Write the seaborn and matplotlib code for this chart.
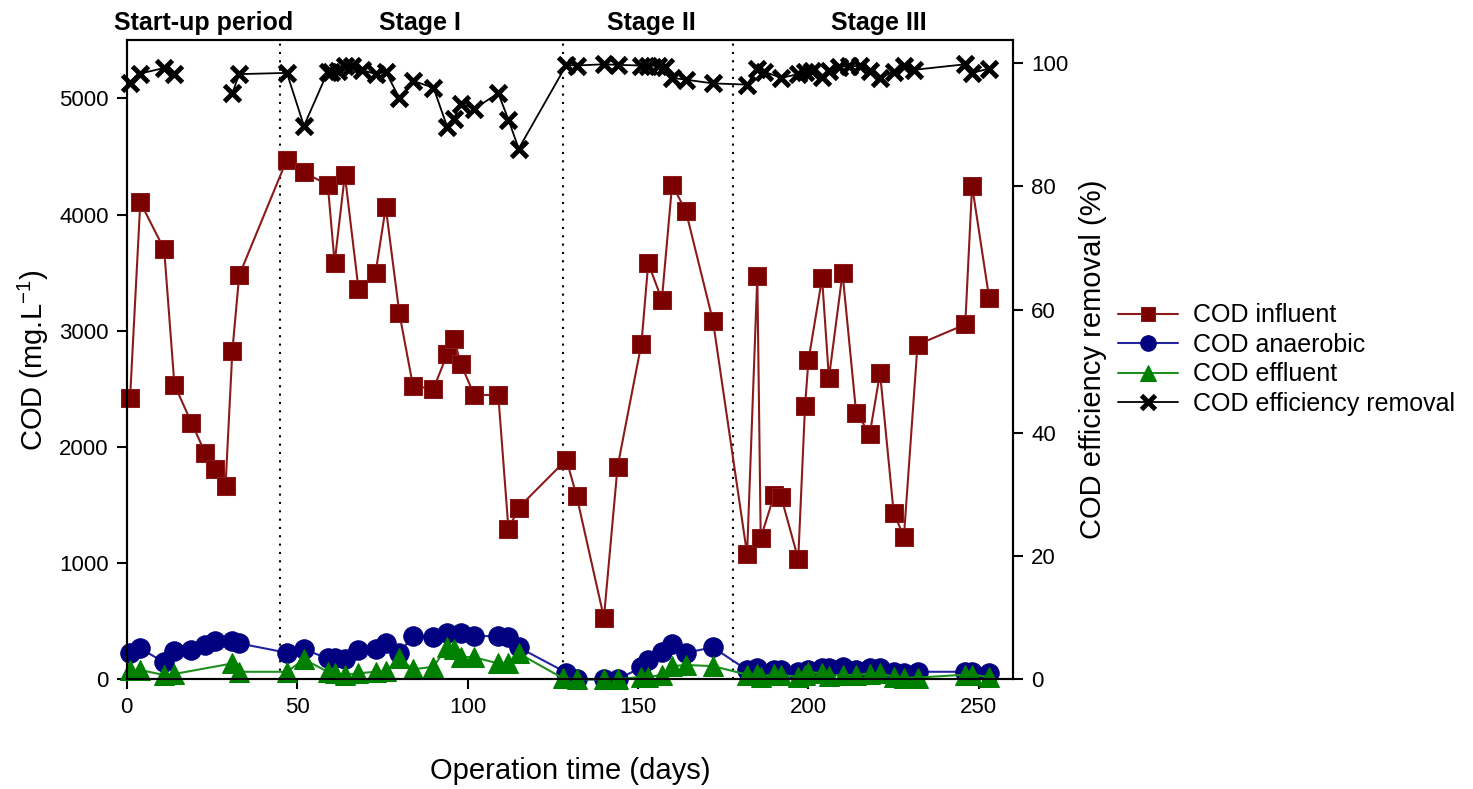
import numpy as np
import pandas as pd
import matplotlib
matplotlib.use("Agg")
import matplotlib.pyplot as plt
import seaborn as sns

# ---------------- data ----------------
inf_day = [1, 4, 11, 14, 19, 23, 26, 29, 31, 33, 47, 52, 59, 61, 64, 68, 73, 76, 80, 84,
           90, 94, 96, 98, 102, 109, 112, 115, 129, 132, 140, 144, 151, 153, 157, 160, 164,
           172, 182, 185, 186, 190, 192, 197, 199, 200, 204, 206, 210, 214, 218, 221, 225,
           228, 232, 246, 248, 253]
inf_cod = [2424, 4106, 3700, 2536, 2209, 1951, 1814, 1664, 2825, 3476, 4473, 4364, 4255,
           3585, 4341, 3361, 3495, 4063, 3149, 2524, 2501, 2796, 2931, 2716, 2444, 2450,
           1292, 1478, 1891, 1576, 530, 1828, 2888, 3581, 3267, 4255, 4034, 3083, 1077,
           3467, 1217, 1590, 1570, 1034, 2352, 2745, 3452, 2593, 3495, 2292, 2115, 2636,
           1435, 1226, 2880, 3054, 4249, 3284]

ana_day = [1, 4, 11, 14, 19, 23, 26, 31, 33, 47, 52, 59, 61, 64, 68, 73, 76, 80, 84, 90,
           94, 98, 102, 109, 112, 115, 129, 132, 140, 144, 151, 153, 157, 160, 164, 172,
           182, 185, 186, 190, 192, 197, 200, 204, 206, 210, 214, 218, 221, 225, 228, 232,
           246, 248, 253]
ana_cod = [229, 266, 146, 243, 252, 295, 329, 329, 309, 229, 258, 180, 186, 172, 252, 258,
           309, 229, 372, 366, 401, 401, 372, 372, 366, 275, 57, 0, 0, 0, 103, 166, 237,
           303, 229, 275, 80, 95, 22, 80, 80, 65, 80, 95, 95, 108, 80, 95, 95, 65, 52, 65,
           65, 65, 52]

eff_day = [1, 4, 11, 14, 31, 33, 47, 52, 59, 60, 62, 64, 66, 69, 73, 76, 80, 84, 90, 94,
           96, 98, 102, 109, 112, 115, 129, 132, 140, 144, 151, 153, 156, 158, 160, 164,
           172, 182, 185, 187, 192, 197, 199, 201, 204, 206, 209, 212, 215, 218, 221, 225,
           228, 231, 246, 248, 253]
eff_val = [96.8, 98.3, 99.2, 98.2, 95.1, 98.2, 98.4, 89.8, 98.6, 98.6, 98.7, 99.5, 99.5,
           98.9, 98.2, 98.6, 94.3, 97.1, 96.0, 89.7, 91.0, 93.4, 92.6, 95.1, 90.8, 86.1,
           99.7, 99.6, 99.8, 99.7, 99.6, 99.6, 99.5, 99.3, 97.6, 97.3, 96.7, 96.5, 99.1,
           98.6, 97.6, 98.2, 98.6, 98.7, 97.7, 98.7, 99.4, 99.5, 99.5, 98.7, 97.6, 98.6,
           99.5, 98.9, 99.8, 98.4, 99.1]
eff_seg = [0, 0, 0, 0] + [1] * (len(eff_day) - 4)

eflu_day = [1, 4, 11, 14, 31, 33, 47, 52, 59, 61, 64, 68, 73, 76, 80, 84, 90, 94, 96, 98,
            102, 109, 112, 115, 128, 132, 140, 144, 151, 153, 157, 160, 164, 172, 182, 185,
            186, 190, 192, 197, 199, 200, 204, 206, 210, 214, 218, 221, 225, 228, 232, 246,
            248, 253]
eflu_cod = [80, 80, 37, 46, 137, 65, 65, 172, 65, 52, 37, 52, 65, 71, 180, 86, 108, 280,
            258, 194, 189, 137, 143, 223, 9, 0, 0, 0, 22, 22, 37, 114, 123, 114, 40, 50, 20,
            45, 40, 20, 35, 60, 55, 30, 40, 35, 50, 55, 20, 15, 15, 40, 40, 20]

stage_bounds = [45, 128, 178]
stage_names = ["Start-up period", "Stage I", "Stage II", "Stage III"]
stage_label_x = [22.5, 86, 154, 220.5]

# ---------------- style ----------------
sns.set_theme(style="ticks")
plt.rcParams["font.family"] = ["Liberation Sans", "DejaVu Sans"]
plt.rcParams["mathtext.fontset"] = "custom"
plt.rcParams["mathtext.rm"] = "Liberation Sans"
plt.rcParams["mathtext.it"] = "Liberation Sans:italic"
plt.rcParams["mathtext.default"] = "regular"
for k in ("text.color", "axes.labelcolor", "xtick.color", "ytick.color"):
    plt.rcParams[k] = "black"
plt.rcParams["axes.linewidth"] = 1.5

fig = plt.figure(figsize=(14.73, 7.89), dpi=100)
ax = fig.add_axes([0.086, 0.139, 0.6017, 0.810])
ax2 = ax.twinx()

RED, BLUE, GREEN = "#7b0000", "#000080", "#008000"

df_inf = pd.DataFrame({"day": inf_day, "cod": inf_cod})
df_ana = pd.DataFrame({"day": ana_day, "cod": ana_cod})
df_efl = pd.DataFrame({"day": eflu_day, "cod": eflu_cod})
df_eff = pd.DataFrame({"day": eff_day, "eff": eff_val, "seg": eff_seg})

sns.lineplot(data=df_inf, x="day", y="cod", ax=ax, color="#8b1a1a", lw=1.5,
             marker="s", markersize=13, markerfacecolor=RED, markeredgecolor="#8b1a1a",
             label="COD influent", clip_on=False, zorder=3)
sns.lineplot(data=df_ana, x="day", y="cod", ax=ax, color="#2323a0", lw=1.5,
             marker="o", markersize=14, markerfacecolor=BLUE, markeredgecolor=BLUE,
             label="COD anaerobic", clip_on=False, zorder=4)
sns.lineplot(data=df_efl, x="day", y="cod", ax=ax, color="#1f8f1f", lw=1.5,
             marker="^", markersize=14, markerfacecolor=GREEN, markeredgecolor=GREEN,
             label="COD effluent", clip_on=False, zorder=5)
sns.lineplot(data=df_eff, x="day", y="eff", units="seg", estimator=None, ax=ax2,
             color="black", lw=1.3, marker="x", markersize=12, markeredgewidth=3.5,
             markeredgecolor="black", label="COD efficiency removal", clip_on=False)

for b in stage_bounds:
    ax.axvline(b, color="black", ls=(0, (1, 3)), lw=1.5, zorder=1)

ax.set_xlim(0, 260)
ax.set_ylim(0, 5500)
ax2.set_ylim(0, 103.7)
ax.set_xticks([0, 50, 100, 150, 200, 250])
ax.set_yticks([0, 1000, 2000, 3000, 4000, 5000])
ax2.set_yticks([0, 20, 40, 60, 80, 100])

for a in (ax, ax2):
    a.tick_params(axis="both", direction="out", length=7, width=1.5,
                  labelsize=16, colors="black", pad=6)
    for s in a.spines.values():
        s.set_linewidth(1.5)
        s.set_color("black")

ax.set_xlabel("Operation time (days)", fontsize=21, labelpad=28)
ax.set_ylabel("COD (mg.L$^{-1}$)", fontsize=21, labelpad=6)
ax2.set_ylabel("COD efficiency removal (%)", fontsize=21, labelpad=8)

for name, xs in zip(stage_names, stage_label_x):
    ax.text(xs, 1.008, name, transform=ax.get_xaxis_transform(), ha="center",
            va="bottom", fontsize=18, fontweight="bold")

# legend
h1, l1 = ax.get_legend_handles_labels()
h2, l2 = ax2.get_legend_handles_labels()
handles, labels = [], []
for h, l in zip(h1 + h2, l1 + l2):
    if l not in labels:
        handles.append(h)
        labels.append(l)
for a in (ax, ax2):
    if a.get_legend() is not None:
        a.get_legend().remove()
fig.legend(handles, labels, loc="upper left", bbox_to_anchor=(0.744, 0.644),
           frameon=False, fontsize=18, handlelength=2.4, labelspacing=0.22,
           handletextpad=0.6, markerscale=0.8)

fig.savefig("out.png", dpi=100)
